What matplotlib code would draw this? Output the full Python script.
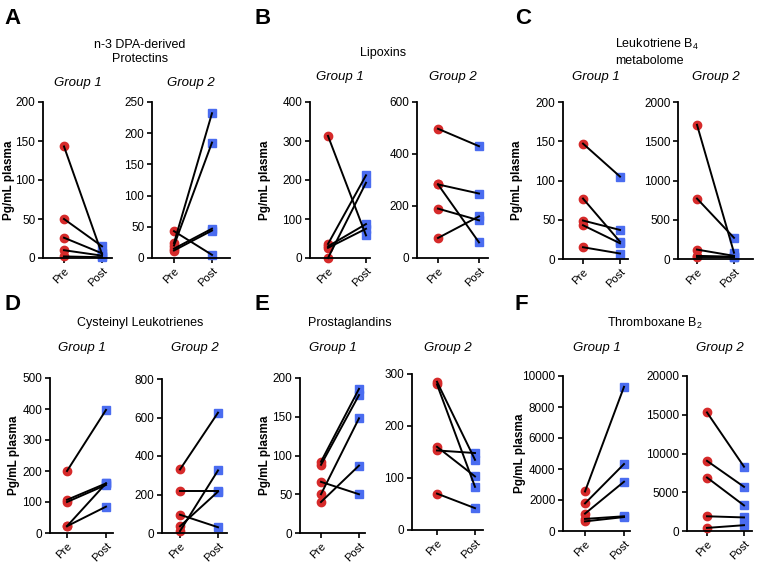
import matplotlib.pyplot as plt

plt.rcParams['font.family'] = ['Liberation Sans', 'DejaVu Sans']

W, H = 767, 567
RED = '#d62a2a'
BLUE = '#4a6cf0'

# --- data: paired Pre -> Post values (Pg/mL plasma) ---
# A  n-3 DPA-derived protectins
a1_pre, a1_post = [143, 50, 26, 10, 2], [5, 15, 6, 3, 1]
a2_pre, a2_post = [43, 24, 20, 15, 12], [5, 232, 185, 47, 44]
# B  lipoxins
b1_pre, b1_post = [313, 0, 36, 30, 26], [58, 193, 212, 87, 75]
b2_pre, b2_post = [497, 283, 283, 190, 77], [430, 248, 60, 145, 160]
# C  leukotriene B4 metabolome
c1_pre, c1_post = [147, 77, 49, 43, 15], [105, 22, 37, 20, 7]
c2_pre, c2_post = [1710, 770, 120, 40, 20], [80, 270, 40, 30, 20]
# D  cysteinyl leukotrienes
d1_pre, d1_post = [200, 107, 100, 22, 22], [397, 160, 155, 160, 85]
d2_pre, d2_post = [330, 220, 95, 35, 10], [625, 220, 30, 215, 325]
# E  prostaglandins
e1_pre, e1_post = [92, 88, 66, 50, 40], [186, 178, 50, 148, 87]
e2_pre, e2_post = [285, 280, 160, 153, 70], [135, 83, 103, 148, 42]
# F  thromboxane B2
f1_pre, f1_post = [2550, 1780, 1120, 780, 620], [9300, 4320, 3180, 950, 900]
f2_pre, f2_post = [15300, 9050, 6900, 1900, 400], [8300, 5700, 3300, 1750, 750]

letters = ['A', 'B', 'C', 'D', 'E', 'F']
titles = ['n-3 DPA-derived\nProtectins', 'Lipoxins',
          'Leukotriene $\\mathregular{B_4}$\nmetabolome',
          'Cysteinyl Leukotrienes', 'Prostaglandins',
          'Thromboxane $\\mathregular{B_2}$']
groups = ['Group 1', 'Group 2']
xcats = ['Pre', 'Post']

series = [
    [(a1_pre, a1_post, 200, 50), (a2_pre, a2_post, 250, 50)],
    [(b1_pre, b1_post, 400, 100), (b2_pre, b2_post, 600, 200)],
    [(c1_pre, c1_post, 200, 50), (c2_pre, c2_post, 2000, 500)],
    [(d1_pre, d1_post, 500, 100), (d2_pre, d2_post, 800, 200)],
    [(e1_pre, e1_post, 200, 50), (e2_pre, e2_post, 300, 100)],
    [(f1_pre, f1_post, 10000, 2000), (f2_pre, f2_post, 20000, 5000)],
]

# layout in pixels: (left, top, right, bottom, x_pre, x_post)
boxes = [
    [(43, 102, 112, 258, 64, 102), (152, 102, 230, 258, 174, 212)],
    [(310, 102, 370, 258, 328, 366), (417, 102, 488, 258, 438, 479)],
    [(563, 102, 628, 259, 583, 620), (678, 102, 753, 259, 697, 734)],
    [(50, 378, 113, 533, 67, 106), (162, 379, 227, 533, 180, 218)],
    [(300, 378, 365, 533, 321, 359), (412, 374, 483, 530, 437, 475)],
    [(563, 376, 630, 531, 585, 624), (687, 376, 752, 531, 707, 744)],
]
letter_pos = [(4, 18), (255, 18), (515, 18), (4, 305), (255, 305), (515, 305)]
title_pos = [(140, 52, 'center'), (383, 53, 'center'), (615, 52, 'left'),
             (140, 323, 'center'), (350, 323, 'center'), (655, 323, 'center')]
group_y = [83, 77, 77, 348, 348, 348]
ylabel_x = [9, 265, 517, 14, 265, 520]

fig = plt.figure(figsize=(W / 100, H / 100), dpi=100)


def fx(px):
    return px / W


def fy(py):
    return 1 - py / H


for i in range(6):
    lx, ly = letter_pos[i]
    fig.text(fx(lx), fy(ly), letters[i], fontsize=16, fontweight='bold',
             ha='left', va='center')
    tx, ty, tha = title_pos[i]
    fig.text(fx(tx), fy(ty), titles[i], fontsize=9, ha=tha, va='center',
             multialignment=tha, linespacing=1.25)

    for j in range(2):
        pre, post, top, step = series[i][j]
        l, t, r, b, xp, xq = boxes[i][j]
        ax = fig.add_axes([fx(l), fy(b), (r - l) / W, (b - t) / H])
        unit = xq - xp
        ax.set_xlim((l - xp) / unit, (r - xp) / unit)
        ax.set_ylim(0, top)

        for p, q in zip(pre, post):
            ax.plot([0, 1], [p, q], color='black', lw=1.4, zorder=3,
                    clip_on=False)
        ax.plot([0] * len(pre), pre, 'o', color=RED, ms=6, zorder=2,
                clip_on=False)
        ax.plot([1] * len(post), post, 's', color=BLUE, ms=6, zorder=2,
                clip_on=False)

        ax.set_yticks(range(0, top + 1, step))
        ax.set_xticks([0, 1])
        ax.set_xticklabels(xcats, rotation=45, ha='right', va='top',
                           rotation_mode='anchor')
        ax.tick_params(axis='y', labelsize=8.5)
        ax.tick_params(axis='x', labelsize=8)
        ax.tick_params(width=1.2, length=3.5, pad=2, color='black')
        for s in ['top', 'right']:
            ax.spines[s].set_visible(False)
        for s in ['left', 'bottom']:
            ax.spines[s].set_linewidth(1.3)

        fig.text(fx((l + r) / 2), fy(group_y[i]), groups[j], fontsize=9.5,
                 style='italic', ha='center', va='center')

        if j == 0:
            fig.text(fx(ylabel_x[i]), fy((t + b) / 2), 'Pg/mL plasma',
                     fontsize=8.5, fontweight='bold', rotation=90,
                     ha='center', va='center')

fig.savefig('out.png', dpi=100)
